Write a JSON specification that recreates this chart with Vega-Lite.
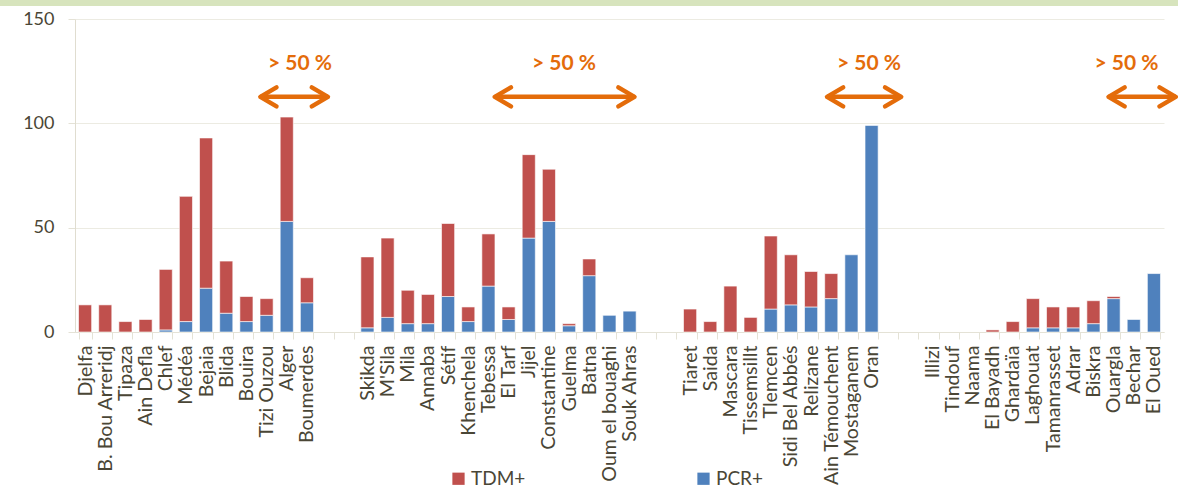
{
  "$schema": "https://vega.github.io/schema/vega-lite/v6.json",
  "width": 1089,
  "height": 313,
  "autosize": {"type": "none"},
  "padding": {"left": 75, "top": 19, "right": 14, "bottom": 161},
  "background": "white",
  "config": {"view": {"stroke": null}, "font": "Lato"},
  "datasets": {
    "bars": [
      {"w": "Djelfa", "t": "TDM+", "v": 13},
      {"w": "B. Bou Arreridj", "t": "TDM+", "v": 13},
      {"w": "Tipaza", "t": "TDM+", "v": 5},
      {"w": "Ain Defla", "t": "TDM+", "v": 6},
      {"w": "Chlef", "t": "PCR+", "v": 1},
      {"w": "Chlef", "t": "TDM+", "v": 29},
      {"w": "Médéa", "t": "PCR+", "v": 5},
      {"w": "Médéa", "t": "TDM+", "v": 60},
      {"w": "Bejaia", "t": "PCR+", "v": 21},
      {"w": "Bejaia", "t": "TDM+", "v": 72},
      {"w": "Blida", "t": "PCR+", "v": 9},
      {"w": "Blida", "t": "TDM+", "v": 25},
      {"w": "Bouira", "t": "PCR+", "v": 5},
      {"w": "Bouira", "t": "TDM+", "v": 12},
      {"w": "Tizi Ouzou", "t": "PCR+", "v": 8},
      {"w": "Tizi Ouzou", "t": "TDM+", "v": 8},
      {"w": "Alger", "t": "PCR+", "v": 53},
      {"w": "Alger", "t": "TDM+", "v": 50},
      {"w": "Boumerdes", "t": "PCR+", "v": 14},
      {"w": "Boumerdes", "t": "TDM+", "v": 12},
      {"w": "Skikda", "t": "PCR+", "v": 2},
      {"w": "Skikda", "t": "TDM+", "v": 34},
      {"w": "M'Sila", "t": "PCR+", "v": 7},
      {"w": "M'Sila", "t": "TDM+", "v": 38},
      {"w": "Mila", "t": "PCR+", "v": 4},
      {"w": "Mila", "t": "TDM+", "v": 16},
      {"w": "Annaba", "t": "PCR+", "v": 4},
      {"w": "Annaba", "t": "TDM+", "v": 14},
      {"w": "Sétif", "t": "PCR+", "v": 17},
      {"w": "Sétif", "t": "TDM+", "v": 35},
      {"w": "Khenchela", "t": "PCR+", "v": 5},
      {"w": "Khenchela", "t": "TDM+", "v": 7},
      {"w": "Tebessa", "t": "PCR+", "v": 22},
      {"w": "Tebessa", "t": "TDM+", "v": 25},
      {"w": "El Tarf", "t": "PCR+", "v": 6},
      {"w": "El Tarf", "t": "TDM+", "v": 6},
      {"w": "Jijel", "t": "PCR+", "v": 45},
      {"w": "Jijel", "t": "TDM+", "v": 40},
      {"w": "Constantine", "t": "PCR+", "v": 53},
      {"w": "Constantine", "t": "TDM+", "v": 25},
      {"w": "Guelma", "t": "PCR+", "v": 3},
      {"w": "Guelma", "t": "TDM+", "v": 1},
      {"w": "Batna", "t": "PCR+", "v": 27},
      {"w": "Batna", "t": "TDM+", "v": 8},
      {"w": "Oum el bouaghi", "t": "PCR+", "v": 8},
      {"w": "Souk Ahras", "t": "PCR+", "v": 10},
      {"w": "Tiaret", "t": "TDM+", "v": 11},
      {"w": "Saida", "t": "TDM+", "v": 5},
      {"w": "Mascara", "t": "TDM+", "v": 22},
      {"w": "Tissemsillt", "t": "TDM+", "v": 7},
      {"w": "Tlemcen", "t": "PCR+", "v": 11},
      {"w": "Tlemcen", "t": "TDM+", "v": 35},
      {"w": "Sidi Bel Abbés", "t": "PCR+", "v": 13},
      {"w": "Sidi Bel Abbés", "t": "TDM+", "v": 24},
      {"w": "Relizane", "t": "PCR+", "v": 12},
      {"w": "Relizane", "t": "TDM+", "v": 17},
      {"w": "Ain Témouchent", "t": "PCR+", "v": 16},
      {"w": "Ain Témouchent", "t": "TDM+", "v": 12},
      {"w": "Mostaganem", "t": "PCR+", "v": 37},
      {"w": "Oran", "t": "PCR+", "v": 99},
      {"w": "El Bayadh", "t": "TDM+", "v": 1},
      {"w": "Ghardaïa", "t": "TDM+", "v": 5},
      {"w": "Laghouat", "t": "PCR+", "v": 2},
      {"w": "Laghouat", "t": "TDM+", "v": 14},
      {"w": "Tamanrasset", "t": "PCR+", "v": 2},
      {"w": "Tamanrasset", "t": "TDM+", "v": 10},
      {"w": "Adrar", "t": "PCR+", "v": 2},
      {"w": "Adrar", "t": "TDM+", "v": 10},
      {"w": "Biskra", "t": "PCR+", "v": 4},
      {"w": "Biskra", "t": "TDM+", "v": 11},
      {"w": "Ouargla", "t": "PCR+", "v": 16},
      {"w": "Ouargla", "t": "TDM+", "v": 1},
      {"w": "Bechar", "t": "PCR+", "v": 6},
      {"w": "El Oued", "t": "PCR+", "v": 28}
    ],
    "arrows": [
      {"a": 9.02, "b": 12.31, "y": 112.7, "tx": 10.95, "ty": 128.6, "label": "> 50 %"},
      {"a": 20.43, "b": 27.23, "y": 112.7, "tx": 23.8, "ty": 128.6, "label": "> 50 %"},
      {"a": 36.6, "b": 40.21, "y": 112.7, "tx": 38.64, "ty": 128.6, "label": "> 50 %"},
      {"a": 50.3, "b": 53.57, "y": 112.7, "tx": 51.17, "ty": 128.6, "label": "> 50 %"}
    ],
    "band": [{"x1": -5, "x2": 60, "y1": 156.2, "y2": 200}]
  },
  "resolve": {"scale": {"x": "independent"}},
  "layer": [
    {
      "data": {"name": "band"},
      "mark": {"type": "rect", "fill": "#d7e4bd"},
      "encoding": {
        "x": {"field": "x1", "type": "quantitative", "scale": {"domain": [0, 53], "nice": false, "zero": false}, "axis": null},
        "x2": {"field": "x2"},
        "y": {"field": "y1", "type": "quantitative"},
        "y2": {"field": "y2"}
      }
    },
    {
      "data": {"name": "bars"},
      "mark": {"type": "bar", "stroke": "white", "strokeWidth": 1, "strokeOpacity": 0.6},
      "encoding": {
        "x": {
          "field": "w", "type": "nominal", "sort": null,
          "scale": {
            "domain": ["Djelfa", "B. Bou Arreridj", "Tipaza", "Ain Defla", "Chlef", "Médéa", "Bejaia", "Blida", "Bouira", "Tizi Ouzou", "Alger", "Boumerdes", " ", "  ",
              "Skikda", "M'Sila", "Mila", "Annaba", "Sétif", "Khenchela", "Tebessa", "El Tarf", "Jijel", "Constantine", "Guelma", "Batna", "Oum el bouaghi", "Souk Ahras", "   ", "    ",
              "Tiaret", "Saida", "Mascara", "Tissemsillt", "Tlemcen", "Sidi Bel Abbés", "Relizane", "Ain Témouchent", "Mostaganem", "Oran", "     ", "      ",
              "Illizi", "Tindouf", "Naama", "El Bayadh", "Ghardaïa", "Laghouat", "Tamanrasset", "Adrar", "Biskra", "Ouargla", "Bechar", "El Oued"],
            "paddingInner": 0.35, "paddingOuter": 0.175
          },
          "axis": {
            "title": null, "labelAngle": -90, "labelFontSize": 19.6, "labelColor": "#4a4636", "labelFont": "Lato",
            "tickBand": "extent", "tickColor": "#e4e2d6", "tickSize": 7, "domainColor": "#e4e2d6",
            "labelPadding": 6, "labelOverlap": false, "grid": false
          }
        },
        "y": {
          "field": "v", "type": "quantitative", "stack": "zero",
          "scale": {"domain": [0, 150], "nice": false},
          "axis": {
            "title": null, "values": [0, 50, 100, 150], "labelFontSize": 18, "labelColor": "#4a4636", "labelFont": "Lato",
            "tickColor": "#e4e2d6", "tickSize": 7, "labelPadding": 14, "gridColor": "#ecebe2", "domainColor": "#e0ddd0"
          }
        },
        "color": {
          "field": "t", "type": "nominal",
          "scale": {"domain": ["TDM+", "PCR+"], "range": ["#c0504d", "#4f81bd"]},
          "legend": {
            "title": null, "orient": "none", "legendX": 374, "legendY": 450, "direction": "horizontal",
            "symbolType": "square", "symbolSize": 150, "symbolStrokeWidth": 0, "labelFontSize": 19,
            "labelColor": "#4a4636", "labelFont": "Lato", "labelOffset": 3, "columnPadding": 168, "padding": 0
          }
        },
        "order": {"field": "t", "sort": "ascending"}
      }
    },
    {
      "data": {"name": "arrows"},
      "mark": {"type": "rule", "stroke": "#e46c0a", "strokeWidth": 4.5},
      "encoding": {
        "x": {"field": "a", "type": "quantitative", "scale": {"domain": [0, 53], "nice": false, "zero": false}, "axis": null},
        "x2": {"field": "b"},
        "y": {"field": "y", "type": "quantitative"}
      }
    },
    {
      "data": {"name": "arrows"},
      "mark": {"type": "point", "shape": "M 1.7 -1 L 0 0 L 1.7 1", "size": 361, "filled": false, "stroke": "#e46c0a", "strokeWidth": 4.5, "strokeCap": "round", "strokeJoin": "round", "opacity": 1},
      "encoding": {
        "x": {"field": "a", "type": "quantitative", "scale": {"domain": [0, 53], "nice": false, "zero": false}, "axis": null},
        "y": {"field": "y", "type": "quantitative"}
      }
    },
    {
      "data": {"name": "arrows"},
      "mark": {"type": "point", "shape": "M -1.7 -1 L 0 0 L -1.7 1", "size": 361, "filled": false, "stroke": "#e46c0a", "strokeWidth": 4.5, "strokeCap": "round", "strokeJoin": "round", "opacity": 1},
      "encoding": {
        "x": {"field": "b", "type": "quantitative", "scale": {"domain": [0, 53], "nice": false, "zero": false}, "axis": null},
        "y": {"field": "y", "type": "quantitative"}
      }
    },
    {
      "data": {"name": "arrows"},
      "mark": {"type": "text", "fontSize": 21, "fontWeight": "bold", "fill": "#e46c0a", "font": "Lato", "align": "center", "baseline": "middle"},
      "encoding": {
        "x": {"field": "tx", "type": "quantitative", "scale": {"domain": [0, 53], "nice": false, "zero": false}, "axis": null},
        "y": {"field": "ty", "type": "quantitative"},
        "text": {"field": "label"}
      }
    }
  ]
}
